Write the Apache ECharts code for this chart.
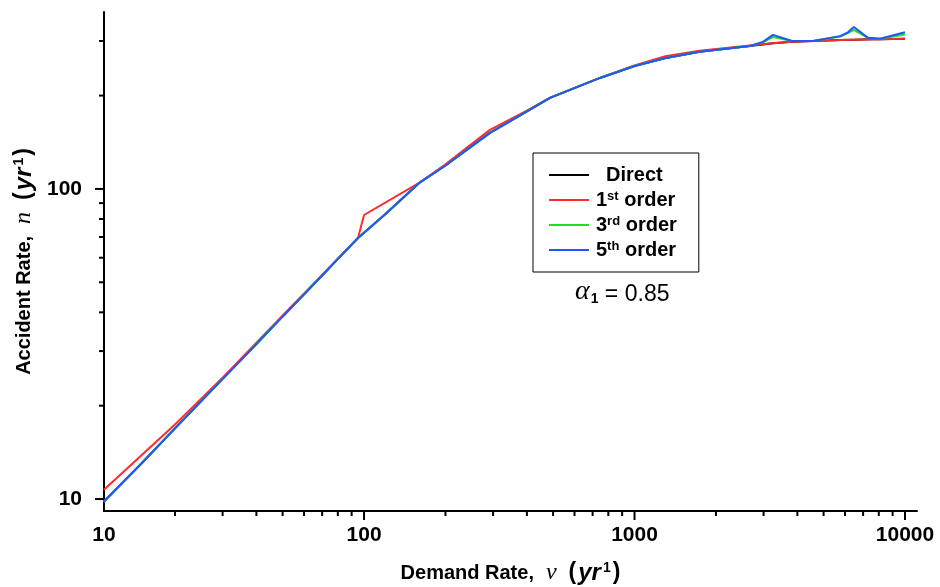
<!DOCTYPE html>
<html>
<head>
<meta charset="utf-8">
<script src="https://cdn.jsdelivr.net/npm/echarts@6/dist/echarts.min.js"></script>
<style>html,body{margin:0;padding:0;background:#fff;}#c{width:940px;height:587px;}</style>
</head>
<body>
<div id="c"></div>
<script>
// ---- data ----
const directV = [10.9, 15, 20, 30, 40, 50, 60, 70, 80, 95, 120, 161, 200, 292, 400, 487, 745, 1000, 1292, 1740, 2670, 3250, 3820, 4570, 5755, 6470, 7430, 8090, 10000];
const directN = [9.8, 13.0, 16.9, 24.4, 31.6, 38.8, 45.7, 52.6, 59.5, 69.5, 83.0, 105, 119, 151.6, 177.8, 196.6, 228, 249, 264, 277, 289, 295, 298, 300, 302, 303, 304, 304, 305];

const firstV = [10.9, 20, 30, 55, 70, 95, 100, 161, 200, 292, 400, 487, 745, 1000, 1300, 1740, 2670, 3250, 3820, 4570, 5755, 6470, 8090, 10000];
const firstN = [10.7, 17.4, 24.6, 42.6, 52.8, 69.5, 82.4, 105, 120, 155, 179, 197, 228, 250, 268, 279, 290, 295, 298, 300, 302, 303, 304, 305];

const thirdV = [10.9, 15, 20, 30, 40, 50, 60, 70, 80, 95, 120, 161, 200, 292, 400, 487, 745, 1000, 1292, 1740, 2670, 2985, 3250, 3820, 4570, 5755, 6150, 6470, 7295, 8090, 10000];
const thirdN = [9.8, 13.0, 16.9, 24.4, 31.6, 38.8, 45.7, 52.6, 59.5, 69.5, 83.0, 105, 119, 151.6, 177.8, 196.6, 228, 249, 264, 277, 289, 297, 309, 300, 300, 310, 318, 326, 307, 305, 315];

const fifthV = [10.9, 15, 20, 30, 40, 50, 60, 70, 80, 95, 120, 161, 200, 292, 400, 487, 745, 1000, 1292, 1740, 2670, 2985, 3250, 3820, 4570, 5755, 6150, 6470, 7295, 8090, 10000];
const fifthN = [9.8, 13.0, 16.9, 24.4, 31.6, 38.8, 45.7, 52.6, 59.5, 69.5, 83.0, 105, 119, 151.6, 177.8, 196.6, 228, 249, 264, 277, 289, 298, 314, 300, 300, 311, 320, 333, 307, 305, 320];

const xMajorTicks = [100, 1000, 10000];
const xMinorTicks = [20, 30, 40, 50, 60, 70, 80, 90, 200, 300, 400, 500, 600, 700, 800, 900, 2000, 3000, 4000, 5000, 6000, 7000, 8000, 9000];
const yMajorTicks = [10, 100];
const yMinorTicks = [20, 30, 40, 50, 60, 70, 80, 90, 200, 300];

// the reference's x axis starts just above 10 (its first label reads "10")
const X_MIN = 10.93, X_MAX = 11075;
const Y_MIN = 9.15, Y_MAX = 372;

const FONT = 'Liberation Sans, Arial, sans-serif';
const SERIF = 'Liberation Serif, Times New Roman, serif';

function pairs(xs, ys) { return xs.map((v, i) => [v, ys[i]]); }
function isPow10(v) { const l = Math.log10(v); return Math.abs(l - Math.round(l)) < 1e-6; }

const titleRich = {
  b: { fontFamily: FONT, fontWeight: 'bold', fontSize: 20, color: '#000' },
  g: { fontFamily: SERIF, fontStyle: 'italic', fontSize: 24, color: '#000', padding: [0, 12, 0, 12] },
  p: { fontFamily: FONT, fontWeight: 'bold', fontSize: 23, color: '#000' },
  i: { fontFamily: FONT, fontWeight: 'bold', fontStyle: 'italic', fontSize: 24, color: '#000', padding: [0, 1, 0, 2] },
  s: { fontFamily: FONT, fontWeight: 'bold', fontSize: 14, color: '#000', verticalAlign: 'top', padding: [0, 2, 0, 1] }
};

const legendNames = { 'Direct': '{d|Direct}', '1st order': '{b|1}{s|st}{b| order}', '3rd order': '{b|3}{s|rd}{b| order}', '5th order': '{b|5}{s|th}{b| order}' };

const chart = echarts.init(document.getElementById('c'), null, { renderer: 'canvas' });

function tickSeries(values, isX, len) {
  return {
    type: 'custom',
    silent: true,
    clip: false,
    z: 10,
    data: values.map(v => isX ? [v, Y_MIN] : [X_MIN, v]),
    encode: { x: 0, y: 1 },
    renderItem: function (params, api) {
      const p = api.coord([api.value(0), api.value(1)]);
      const shape = isX ? { x1: p[0], y1: p[1], x2: p[0], y2: p[1] + len } : { x1: p[0], y1: p[1], x2: p[0] - len, y2: p[1] };
      return { type: 'line', shape: shape, style: { stroke: '#000', lineWidth: 2 } };
    }
  };
}

function lineSeries(name, data, color) {
  return {
    name: name, type: 'line', data: data, symbol: 'none', showSymbol: false, smooth: false,
    lineStyle: { color: color, width: 2 }, itemStyle: { color: color }, z: 3
  };
}

chart.setOption({
  backgroundColor: '#fff',
  animation: false,
  grid: { left: 104, right: 23, top: 12, bottom: 76, containLabel: false, outerBoundsMode: 'none' },
  xAxis: {
    type: 'log', logBase: 10, min: X_MIN, max: X_MAX,
    axisLine: { show: true, lineStyle: { color: '#000', width: 2 } },
    axisTick: { show: false },
    splitLine: { show: false },
    axisLabel: { color: '#000', fontFamily: FONT, fontWeight: 'bold', fontSize: 21, margin: 14,
      showMinLabel: true, showMaxLabel: true,
      formatter: v => isPow10(v) ? String(Math.round(v)) : (Math.abs(v - X_MIN) < 0.05 ? '10' : '') },
    name: '{b|Demand Rate,}{g|ν}{p|(}{i|yr}{s|1}{p|)}',
    nameLocation: 'middle', nameGap: 50,
    nameTextStyle: { rich: titleRich }
  },
  yAxis: {
    type: 'log', logBase: 10, min: Y_MIN, max: Y_MAX,
    axisLine: { show: true, lineStyle: { color: '#000', width: 2 } },
    axisTick: { show: false },
    splitLine: { show: false },
    axisLabel: { color: '#000', fontFamily: FONT, fontWeight: 'bold', fontSize: 21, margin: 22,
      formatter: v => isPow10(v) ? String(Math.round(v)) : '' },
    name: '{b|Accident Rate,}{g|n}{p|(}{i|yr}{s|1}{p|)}',
    nameLocation: 'middle', nameGap: 61, nameRotate: 90,
    nameTextStyle: { rich: titleRich }
  },
  legend: {
    data: ['Direct', '1st order', '3rd order', '5th order'],
    orient: 'vertical', left: 533, top: 153,
    icon: 'path://M0,0 L40,0 L40,2 L0,2 Z',
    itemWidth: 44, itemHeight: 2, itemGap: 5,
    padding: [12, 22, 12, 16],
    borderColor: '#000', borderWidth: 1, backgroundColor: '#fff',
    align: 'left',
    formatter: name => legendNames[name],
    textStyle: {
      lineHeight: 20,
      rich: {
        d: { fontFamily: FONT, fontWeight: 'bold', fontSize: 20, color: '#000', lineHeight: 20, padding: [0, 0, 0, 10] },
        b: { fontFamily: FONT, fontWeight: 'bold', fontSize: 20, color: '#000', lineHeight: 20 },
        s: { fontFamily: FONT, fontWeight: 'bold', fontSize: 13, color: '#000', verticalAlign: 'top', lineHeight: 14 }
      }
    }
  },
  graphic: [{
    type: 'text', left: 575, top: 278,
    style: {
      text: '{a|α}{sub|1}{e| = 0.85}',
      rich: {
        a: { fontFamily: SERIF, fontStyle: 'italic', fontSize: 28, fill: '#000', verticalAlign: 'bottom' },
        sub: { fontFamily: FONT, fontWeight: 'bold', fontSize: 14, fill: '#000', verticalAlign: 'bottom', padding: [0, 0, 0, 1] },
        e: { fontFamily: FONT, fontSize: 23, fill: '#000', verticalAlign: 'bottom' }
      }
    }
  }],
  series: [
    lineSeries('Direct', pairs(directV, directN), '#000000'),
    lineSeries('1st order', pairs(firstV, firstN), '#ff2a2a'),
    lineSeries('3rd order', pairs(thirdV, thirdN), '#22dd22'),
    lineSeries('5th order', pairs(fifthV, fifthN), '#2255ff'),
    tickSeries(xMajorTicks, true, 9),
    tickSeries(xMinorTicks, true, 5),
    tickSeries(yMajorTicks, false, 9),
    tickSeries(yMinorTicks, false, 5)
  ]
});
</script>
</body>
</html>
